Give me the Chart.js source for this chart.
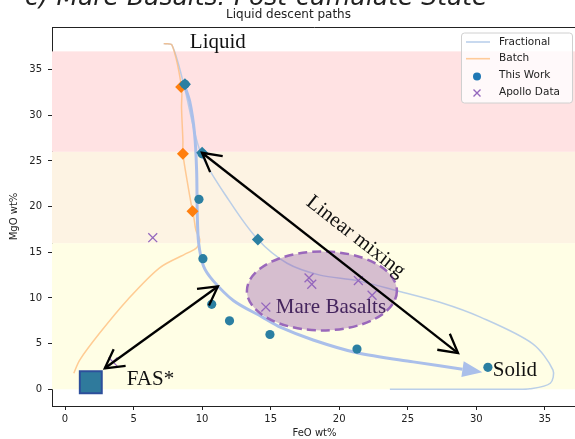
<!DOCTYPE html>
<html>
<head>
<meta charset="utf-8">
<script src="https://cdn.jsdelivr.net/npm/chart.js@4/dist/chart.umd.min.js"></script>
<style>
  html, body { margin: 0; padding: 0; background: #fff; overflow: hidden; }
  canvas { display: block; }
</style>
</head>
<body>
<canvas id="c" width="580" height="439"></canvas>
<script>
// ---- axis ticks ----
const xTickValues = [0, 5, 10, 15, 20, 25, 30, 35];
const yTickValues = [0, 5, 10, 15, 20, 25, 30, 35];

// ---- stability fields: MgO wt% bounds, top to bottom ----
const fieldBounds = [37, 26, 16, 0];

// ---- liquid lines of descent (FeO wt%, MgO wt%) ----
const fractionalPath = [
  {x: 7.2, y: 37.85}, {x: 7.8, y: 37.7}, {x: 8.66, y: 33.4}, {x: 9.9, y: 25.9},
  {x: 12.0, y: 20.6}, {x: 14.07, y: 16.4}, {x: 16.2, y: 13.8}, {x: 18.6, y: 12.5},
  {x: 21.3, y: 11.9}, {x: 24.2, y: 10.8}, {x: 27.4, y: 9.5}, {x: 30.3, y: 7.9},
  {x: 34.1, y: 5.0}, {x: 35.6, y: 2.1}, {x: 35.4, y: 0.66}, {x: 33.9, y: 0.05},
  {x: 32.7, y: 0.0}, {x: 23.7, y: 0.0}
];
const batchPath = [
  {x: 7.2, y: 37.85}, {x: 7.8, y: 37.7}, {x: 8.5, y: 33.1}, {x: 8.5, y: 30.8},
  {x: 8.6, y: 27.2}, {x: 8.6, y: 25.8}, {x: 8.9, y: 22.9}, {x: 9.25, y: 19.9},
  {x: 9.4, y: 18.8}, {x: 9.55, y: 17.4}, {x: 9.83, y: 16.4}, {x: 9.6, y: 15.5},
  {x: 8.9, y: 14.9}, {x: 6.9, y: 13.3}, {x: 4.5, y: 9.7}, {x: 2.5, y: 6.1},
  {x: 1.07, y: 3.2}, {x: 0.64, y: 1.75}
];
// main descent trend, liquid to solid
const descentTrend = [
  {x: 8.66, y: 33.5}, {x: 9.1, y: 31.5}, {x: 9.45, y: 28.0}, {x: 9.6, y: 24.0},
  {x: 9.65, y: 19.0}, {x: 9.75, y: 16.0}, {x: 10.1, y: 13.5}, {x: 10.8, y: 11.9},
  {x: 12.3, y: 9.7}, {x: 14.4, y: 7.9}, {x: 15.7, y: 6.8}, {x: 18.1, y: 5.4},
  {x: 21.3, y: 4.0}, {x: 25.4, y: 3.0}, {x: 29.0, y: 2.2}
];

// ---- model steps and samples ----
const fractionalSteps = [{x: 8.75, y: 33.4}, {x: 10.0, y: 25.9}, {x: 14.07, y: 16.4}];
const batchSteps = [{x: 8.47, y: 33.1}, {x: 8.6, y: 25.8}, {x: 9.3, y: 19.5}];
const thisWork = [
  {x: 8.75, y: 33.4}, {x: 10.0, y: 25.8}, {x: 9.77, y: 20.8}, {x: 10.06, y: 14.3},
  {x: 10.7, y: 9.3}, {x: 12.0, y: 7.5}, {x: 14.95, y: 6.0}, {x: 21.3, y: 4.4},
  {x: 30.85, y: 2.4}
];
const apolloData = [
  {x: 6.4, y: 16.6}, {x: 17.8, y: 12.2}, {x: 18.0, y: 11.5}, {x: 21.4, y: 11.9},
  {x: 22.4, y: 10.3}, {x: 14.65, y: 9.0}, {x: 3.5, y: 3.0}
];
const fasComposition = [{x: 1.88, y: 0.77}];

// ---- Mare basalt field (centre and half-widths, wt%) ----
const mareField = {cx: 18.74, cy: 10.77, rx: 5.47, ry: 4.32};

// ---- linear mixing ends ----
const mixingLines = [
  [{x: 9.99, y: 25.9}, {x: 28.67, y: 3.97}],
  [{x: 2.9, y: 2.3}, {x: 11.15, y: 11.26}]
];

// ---- styling ----
const fieldColors = ['#ffe2e3', '#fdf3e3', '#fffee5'];
const C = {
  work: '#1f77b4',
  workPt: '#2b7fa2',
  apollo: '#9467bd',
  descent: '#aabfea',
  orange: '#ff7f0e'
};
const serif = '"Liberation Serif", "Times New Roman", serif';
const sans = '"DejaVu Sans", sans-serif';

// text annotations in data coordinates
const textNotes = [
  {text: 'Liquid', x: 11.15, y: 37.4, align: 'center', color: '#111'},
  {text: 'Mare Basalts', x: 19.4, y: 8.3, align: 'center', color: '#45255e'},
  {text: 'FAS*', x: 4.5, y: 0.45, align: 'left', color: '#111'},
  {text: 'Solid', x: 31.2, y: 1.42, align: 'left', color: '#111'}
];
const mixingLabel = {text: 'Linear mixing', x: 21.2, y: 16.7};

function drawOpenHead(ctx, tip, from, len, ang) {
  const a = Math.atan2(from.y - tip.y, from.x - tip.x);
  ctx.beginPath();
  ctx.moveTo(tip.x + len * Math.cos(a + ang), tip.y + len * Math.sin(a + ang));
  ctx.lineTo(tip.x, tip.y);
  ctx.lineTo(tip.x + len * Math.cos(a - ang), tip.y + len * Math.sin(a - ang));
  ctx.stroke();
}

const decor = {
  id: 'decor',
  beforeDatasetsDraw(chart) {
    const {ctx, chartArea: a, scales: {x, y}} = chart;
    ctx.save();
    ctx.beginPath();
    ctx.rect(a.left, a.top, a.right - a.left, a.bottom - a.top);
    ctx.clip();
    for (let i = 0; i < fieldColors.length; i++) {
      const y0 = y.getPixelForValue(fieldBounds[i]);
      const y1 = y.getPixelForValue(fieldBounds[i + 1]);
      ctx.fillStyle = fieldColors[i];
      ctx.fillRect(a.left, y0, a.right - a.left, y1 - y0);
    }
    ctx.restore();
  },
  beforeDatasetDraw(chart, args) {
    // the basalt field sits above the model lines, below the symbols
    if (chart.data.datasets[args.index].key !== 'fas') return;
    const {ctx, scales: {x, y}} = chart;
    const cx = x.getPixelForValue(mareField.cx), cy = y.getPixelForValue(mareField.cy);
    const rx = Math.abs(x.getPixelForValue(mareField.cx + mareField.rx) - cx);
    const ry = Math.abs(y.getPixelForValue(mareField.cy + mareField.ry) - cy);
    ctx.save();
    ctx.beginPath();
    ctx.ellipse(cx, cy, rx, ry, 0, 0, Math.PI * 2);
    ctx.fillStyle = 'rgba(152,94,176,0.4)';
    ctx.fill();
    ctx.setLineDash([9, 5]);
    ctx.lineWidth = 2.5;
    ctx.strokeStyle = '#9a68bb';
    ctx.stroke();
    ctx.restore();
  },
  afterDatasetsDraw(chart) {
    const {ctx, chartArea: a, scales: {x, y}} = chart;
    const px = p => ({x: x.getPixelForValue(p.x), y: y.getPixelForValue(p.y)});
    ctx.save();

    // arrowhead closing the descent trend
    const n = descentTrend.length;
    const base = px(descentTrend[n - 1]), prev = px(descentTrend[n - 2]);
    const ang = Math.atan2(base.y - prev.y, base.x - prev.x);
    const hl = 20, hw = 8;
    const tip = {x: base.x + hl * Math.cos(ang), y: base.y + hl * Math.sin(ang)};
    ctx.beginPath();
    ctx.moveTo(tip.x, tip.y);
    ctx.lineTo(base.x - hw * Math.sin(ang), base.y + hw * Math.cos(ang));
    ctx.lineTo(base.x + hw * Math.sin(ang), base.y - hw * Math.cos(ang));
    ctx.closePath();
    ctx.fillStyle = C.descent;
    ctx.fill();

    // double-headed mixing arrows
    ctx.strokeStyle = '#000';
    ctx.lineWidth = 2.3;
    ctx.lineJoin = 'miter';
    for (const [p, q] of mixingLines) {
      const A = px(p), B = px(q);
      ctx.beginPath();
      ctx.moveTo(A.x, A.y);
      ctx.lineTo(B.x, B.y);
      ctx.stroke();
      drawOpenHead(ctx, A, B, 21, Math.PI / 6.2);
      drawOpenHead(ctx, B, A, 21, Math.PI / 6.2);
    }

    // labels
    ctx.font = '21px ' + serif;
    ctx.textBaseline = 'alphabetic';
    for (const t of textNotes) {
      const p = px(t);
      ctx.fillStyle = t.color;
      ctx.textAlign = t.align;
      ctx.fillText(t.text, p.x, p.y);
    }
    const m0 = px(mixingLines[0][0]), m1 = px(mixingLines[0][1]);
    const rot = Math.atan2(m1.y - m0.y, m1.x - m0.x);
    const lp = px(mixingLabel);
    ctx.translate(lp.x, lp.y);
    ctx.rotate(rot);
    ctx.textAlign = 'center';
    ctx.textBaseline = 'middle';
    ctx.fillStyle = '#111';
    ctx.fillText(mixingLabel.text, 0, 0);
    ctx.setTransform(1, 0, 0, 1, 0, 0);

    // top spine
    ctx.strokeStyle = '#222';
    ctx.lineWidth = 1;
    ctx.beginPath();
    ctx.moveTo(a.left, a.top + 0.5);
    ctx.lineTo(a.right, a.top + 0.5);
    ctx.stroke();

    // legend, upper right
    const items = chart.data.datasets.filter(d => d.legendKind);
    items.sort((d1, d2) => d1.legendRank - d2.legendRank);
    const bw = 111, bh = 70;
    const bx = a.right - 5 - bw, by = a.top + 5.5;
    ctx.beginPath();
    ctx.roundRect(bx + 0.5, by + 0.5, bw, bh, 3);
    ctx.fillStyle = 'rgba(255,255,255,0.8)';
    ctx.fill();
    ctx.strokeStyle = '#d0d0d0';
    ctx.stroke();
    ctx.font = '10.5px ' + sans;
    ctx.textAlign = 'left';
    ctx.textBaseline = 'middle';
    items.forEach((d, i) => {
      const cy = by + 9.5 + i * 16.7;
      if (d.legendKind === 'line') {
        ctx.strokeStyle = d.borderColor;
        ctx.lineWidth = 1.6;
        ctx.beginPath();
        ctx.moveTo(bx + 5, cy);
        ctx.lineTo(bx + 29, cy);
        ctx.stroke();
      } else if (d.legendKind === 'dot') {
        ctx.fillStyle = d.legendColor;
        ctx.beginPath();
        ctx.arc(bx + 16, cy + 1, 4, 0, Math.PI * 2);
        ctx.fill();
      } else {
        ctx.strokeStyle = d.borderColor;
        ctx.lineWidth = 1.4;
        ctx.beginPath();
        ctx.moveTo(bx + 12.5, cy - 2.5); ctx.lineTo(bx + 19.5, cy + 4.5);
        ctx.moveTo(bx + 19.5, cy - 2.5); ctx.lineTo(bx + 12.5, cy + 4.5);
        ctx.stroke();
      }
      ctx.fillStyle = '#222';
      ctx.fillText(d.label, bx + 38, cy);
    });

    // panel heading above the axes (runs off the top edge)
    ctx.font = 'italic 25px ' + sans;
    ctx.fillStyle = '#222';
    ctx.textAlign = 'left';
    ctx.textBaseline = 'alphabetic';
    ctx.fillText('c) Mare Basalts: Post-cumulate State', 25, 5);
    ctx.restore();
  }
};

const lineDs = (label, data, color, width, extra) => Object.assign({
  label, data, showLine: true, borderColor: color, backgroundColor: color,
  borderWidth: width, pointRadius: 0, pointHoverRadius: 0, tension: 0.3, fill: false
}, extra || {});
const ptDs = (label, data, style, radius, fillC, edgeC, bw, extra) => Object.assign({
  label, data, showLine: false, pointStyle: style, pointRadius: radius,
  pointHoverRadius: radius, backgroundColor: fillC, borderColor: edgeC, borderWidth: bw
}, extra || {});

new Chart(document.getElementById('c'), {
  type: 'scatter',
  data: {
    datasets: [
      ptDs('Apollo Data', apolloData, 'crossRot', 6.3, C.apollo, C.apollo, 1.3,
           {legendKind: 'cross', legendRank: 3}),
      ptDs('This Work', thisWork, 'circle', 4.6, C.workPt, C.workPt, 0,
           {legendKind: 'dot', legendRank: 2, legendColor: C.work}),
      ptDs('Fractional steps', fractionalSteps, 'rectRot', 6, C.workPt, C.workPt, 0),
      ptDs('Batch steps', batchSteps, 'rectRot', 6, C.orange, C.orange, 0),
      ptDs('FAS*', fasComposition, 'rect', 15.5, '#2f7a9c', '#2d4f9b', 2, {key: 'fas'}),
      lineDs('Descent', descentTrend, C.descent, 3),
      lineDs('Batch', batchPath, 'rgba(255,187,120,0.75)', 1.5,
             {legendKind: 'line', legendRank: 1}),
      lineDs('Fractional', fractionalPath, 'rgba(174,199,232,0.85)', 1.5,
             {legendKind: 'line', legendRank: 0})
    ]
  },
  options: {
    responsive: false,
    maintainAspectRatio: false,
    animation: false,
    devicePixelRatio: 1,
    layout: {autoPadding: false, padding: {top: 0, right: 3, left: 0, bottom: 0}},
    plugins: {
      legend: {display: false},
      tooltip: {enabled: false},
      title: {
        display: true,
        text: 'Liquid descent paths',
        color: '#222',
        font: {family: sans, size: 12, weight: 'normal', lineHeight: 1.2},
        padding: {top: 8, bottom: 4.6}
      }
    },
    scales: {
      x: {
        type: 'linear', min: -0.95, max: 37.35,
        afterBuildTicks: s => { s.ticks = xTickValues.map(v => ({value: v})); },
        afterFit: s => { s.height = 33; },
        ticks: {color: '#222', font: {family: sans, size: 10}, padding: 3, maxRotation: 0,
                callback: v => String(v)},
        grid: {display: true, drawOnChartArea: false, drawTicks: true, tickLength: 4, color: '#222'},
        border: {display: true, color: '#222', width: 1},
        title: {display: true, text: 'FeO wt%', color: '#222',
                font: {family: sans, size: 10, lineHeight: 1.2}, padding: {top: 0, bottom: 0}}
      },
      y: {
        type: 'linear', min: -1.83, max: 39.67,
        afterBuildTicks: s => { s.ticks = yTickValues.map(v => ({value: v})); },
        afterFit: s => { s.width = 52; },
        ticks: {color: '#222', font: {family: sans, size: 10}, padding: 6,
                callback: v => String(v)},
        grid: {display: true, drawOnChartArea: false, drawTicks: true, tickLength: 4, color: '#222'},
        border: {display: true, color: '#222', width: 1},
        title: {display: true, text: 'MgO wt%', color: '#222',
                font: {family: sans, size: 10, lineHeight: 1.2}, padding: {top: 8, bottom: 0}}
      }
    }
  },
  plugins: [decor]
});
</script>
</body>
</html>
